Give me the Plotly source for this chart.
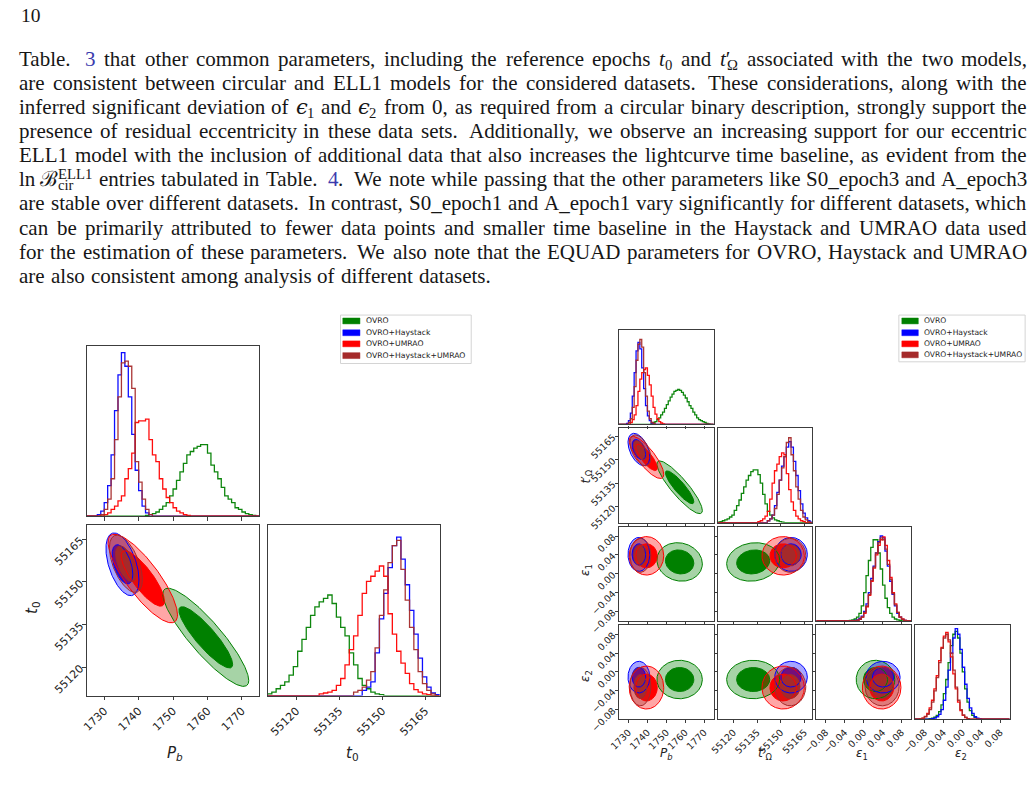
import numpy as np
import plotly.graph_objects as go

W, H = 1035, 796

# ---------------------------------------------------------------- data
DATASETS = ["OVRO", "OVRO+Haystack", "OVRO+UMRAO", "OVRO+Haystack+UMRAO"]
RGB = [(0, 128, 0), (0, 0, 255), (255, 0, 0), (165, 42, 42)]

PB_TICKS = [1730, 1740, 1750, 1760, 1770]
PB_TICKTEXT = ["1730", "1740", "1750", "1760", "1770"]
T_TICKS = [55120, 55135, 55150, 55165]
T_TICKTEXT = ["55120", "55135", "55150", "55165"]
E_TICKS = [-0.08, -0.04, 0.0, 0.04, 0.08]
E_TICKTEXT = ["\u22120.08", "\u22120.04", "0.00", "0.04", "0.08"]
PB_RANGE = [1725, 1775]
T_RANGE = [55110, 55170]
E_RANGE = [-0.1, 0.1]
PB_BIN, T_BIN, E_BIN = 1.0, 1.5, 0.005

# circular model : histogram heights (fraction of panel height), first bin edge
CIRC_PB_START = [1742, 1728, 1730, 1729]
CIRC_PB_HIST = [
    [0.005, 0.01, 0.015, 0.025, 0.04, 0.06, 0.08, 0.12, 0.16, 0.21, 0.26, 0.31, 0.36, 0.38, 0.40, 0.41,
     0.42, 0.42, 0.37, 0.30, 0.26, 0.22, 0.17, 0.12, 0.10, 0.08, 0.05, 0.04, 0.025, 0.015, 0.01, 0.005],
    [0.01, 0.03, 0.08, 0.18, 0.36, 0.62, 0.83, 0.96, 0.88, 0.70, 0.48, 0.27, 0.15, 0.06, 0.02, 0.01],
    [0.01, 0.02, 0.04, 0.06, 0.09, 0.12, 0.22, 0.28, 0.37, 0.55, 0.56, 0.56, 0.57, 0.45, 0.36, 0.32,
     0.22, 0.16, 0.11, 0.08, 0.05, 0.03, 0.02, 0.01, 0.005],
    [0.01, 0.04, 0.10, 0.22, 0.45, 0.70, 0.90, 0.91, 0.88, 0.75, 0.32, 0.20, 0.10, 0.04, 0.01],
]
CIRC_T0_START = [55110, 55143, 55128, 55140]
CIRC_T0_HIST = [
    [0.01, 0.02, 0.04, 0.06, 0.08, 0.12, 0.17, 0.26, 0.33, 0.40, 0.47, 0.52, 0.55, 0.57, 0.59, 0.54,
     0.46, 0.40, 0.35, 0.25, 0.18, 0.10, 0.06, 0.04, 0.02, 0.01, 0.005],
    [0.03, 0.05, 0.08, 0.25, 0.45, 0.60, 0.75, 0.88, 0.93, 0.80, 0.65, 0.50, 0.36, 0.22, 0.11, 0.05, 0.015, 0.005],
    [0.01, 0.015, 0.02, 0.03, 0.06, 0.10, 0.18, 0.27, 0.35, 0.47, 0.60, 0.67, 0.70, 0.73, 0.76, 0.70,
     0.48, 0.36, 0.26, 0.19, 0.13, 0.07, 0.035, 0.02, 0.01, 0.005],
    [0.02, 0.03, 0.05, 0.09, 0.14, 0.28, 0.47, 0.62, 0.78, 0.88, 0.91, 0.74, 0.56, 0.40, 0.27, 0.14, 0.07, 0.03, 0.01],
]
# circular model : 2-D posterior summaries (mean, sd, correlation)
CIRC_PB_MEAN = [1759.5, 1735.3, 1741.2, 1736.3]
CIRC_PB_SD = [5.2, 2.0, 4.2, 2.0]
CIRC_T0_MEAN = [55130.5, 55156.2, 55151.2, 55156.4]
CIRC_T0_SD = [7.2, 4.6, 6.5, 4.2]
CIRC_RHO = [-0.88, -0.5, -0.82, -0.55]

# ELL1 model : histograms
ELL_PB_START = [1742, 1729, 1731, 1730]
ELL_PB_HIST = [
    [0.01, 0.02, 0.03, 0.05, 0.07, 0.10, 0.13, 0.17, 0.21, 0.25, 0.29, 0.32, 0.35, 0.36, 0.37, 0.36,
     0.34, 0.31, 0.28, 0.24, 0.20, 0.17, 0.13, 0.10, 0.07, 0.05, 0.04, 0.03, 0.02, 0.01, 0.005],
    [0.01, 0.04, 0.12, 0.30, 0.55, 0.78, 0.87, 0.80, 0.60, 0.38, 0.20, 0.09, 0.04, 0.015, 0.005],
    [0.02, 0.05, 0.10, 0.20, 0.35, 0.48, 0.55, 0.58, 0.60, 0.52, 0.42, 0.30, 0.18, 0.11, 0.06, 0.03, 0.015, 0.005],
    [0.02, 0.06, 0.18, 0.40, 0.68, 0.85, 0.90, 0.82, 0.55, 0.30, 0.14, 0.06, 0.02, 0.01],
]
ELL_TW_START = [55110, 55141.5, 55135.5, 55141.5]
ELL_TW_HIST = [
    [0.005, 0.01, 0.02, 0.03, 0.04, 0.06, 0.08, 0.13, 0.18, 0.24, 0.31, 0.38, 0.45, 0.50, 0.54, 0.56,
     0.56, 0.51, 0.42, 0.30, 0.20, 0.12, 0.08, 0.05, 0.03, 0.02, 0.01, 0.005],
    [0.02, 0.04, 0.08, 0.18, 0.32, 0.45, 0.60, 0.70, 0.80, 0.86, 0.80, 0.65, 0.50, 0.34, 0.20, 0.10, 0.05, 0.02, 0.005],
    [0.01, 0.02, 0.04, 0.07, 0.12, 0.25, 0.42, 0.55, 0.62, 0.70, 0.74, 0.72, 0.52, 0.35, 0.22, 0.13, 0.07, 0.04, 0.02, 0.01],
    [0.02, 0.04, 0.08, 0.15, 0.30, 0.45, 0.58, 0.70, 0.85, 0.90, 0.72, 0.55, 0.38, 0.25, 0.13, 0.06, 0.03, 0.01],
]
ELL_E1_START = [-0.03, -0.02, -0.015, -0.015]
ELL_E1_HIST = [
    [0.005, 0.01, 0.02, 0.04, 0.08, 0.16, 0.30, 0.48, 0.64, 0.78, 0.86, 0.86, 0.72, 0.55, 0.38, 0.24,
     0.14, 0.08, 0.04, 0.02, 0.01, 0.005],
    [0.005, 0.01, 0.025, 0.05, 0.10, 0.18, 0.30, 0.45, 0.58, 0.72, 0.84, 0.90, 0.88, 0.74, 0.58, 0.42,
     0.28, 0.16, 0.08, 0.04, 0.015, 0.005],
    [0.005, 0.015, 0.04, 0.08, 0.15, 0.27, 0.42, 0.56, 0.70, 0.80, 0.86, 0.89, 0.80, 0.64, 0.46, 0.30,
     0.18, 0.09, 0.04, 0.02, 0.005],
    [0.005, 0.015, 0.04, 0.09, 0.16, 0.28, 0.43, 0.57, 0.72, 0.83, 0.88, 0.86, 0.76, 0.60, 0.44, 0.29,
     0.17, 0.09, 0.04, 0.015, 0.005],
]
ELL_E2_START = [-0.07, -0.065, -0.09, -0.09]
ELL_E2_HIST = [
    [0.005, 0.01, 0.02, 0.04, 0.08, 0.15, 0.27, 0.42, 0.60, 0.78, 0.90, 0.93, 0.86, 0.70, 0.50, 0.32,
     0.18, 0.09, 0.04, 0.02, 0.005],
    [0.005, 0.01, 0.025, 0.05, 0.10, 0.20, 0.34, 0.52, 0.70, 0.86, 0.96, 0.90, 0.74, 0.55, 0.37, 0.22,
     0.12, 0.06, 0.025, 0.01, 0.005],
    [0.005, 0.01, 0.03, 0.06, 0.12, 0.20, 0.32, 0.46, 0.62, 0.76, 0.88, 0.92, 0.82, 0.66, 0.48, 0.32,
     0.18, 0.09, 0.04, 0.015, 0.005],
    [0.005, 0.01, 0.025, 0.05, 0.10, 0.18, 0.30, 0.44, 0.60, 0.75, 0.86, 0.90, 0.84, 0.70, 0.52, 0.34,
     0.20, 0.10, 0.045, 0.02, 0.005],
]
# ELL1 model : 2-D posterior summaries
ELL_PB_MEAN = [1757.0, 1735.5, 1739.5, 1736.3]
ELL_PB_SD = [5.0, 2.4, 3.8, 2.3]
ELL_TW_MEAN = [55132.5, 55156.5, 55151.5, 55156.0]
ELL_TW_SD = [7.0, 4.3, 5.6, 4.1]
ELL_E1_MEAN = [0.025, 0.041, 0.038, 0.039]
ELL_E1_SD = [0.017, 0.015, 0.017, 0.015]
ELL_E2_MEAN = [-0.016, -0.011, -0.033, -0.031]
ELL_E2_SD = [0.017, 0.014, 0.019, 0.017]
ELL_RHO_PB_TW = [-0.88, -0.45, -0.8, -0.5]
ELL_RHO_PB_E1 = [-0.1, 0.0, 0.0, 0.0]
ELL_RHO_TW_E1 = [0.1, 0.0, 0.0, 0.0]
ELL_RHO_PB_E2 = [0.0, 0.0, 0.0, 0.0]
ELL_RHO_TW_E2 = [0.0, 0.0, 0.0, 0.0]
ELL_RHO_E1_E2 = [0.0, 0.0, 0.0, 0.0]
R_IN, R_OUT = 1.5, 2.4   # 68% / 95% credible contours

# page text
TEXT_LINES = [
    "Table. [3] that other common parameters, including the reference epochs {t0} and {tw} associated with the two models,",
    "are consistent between circular and ELL1 models for the considered datasets. These considerations, along with the",
    "inferred significant deviation of {e1} and {e2} from 0, as required from a circular binary description, strongly support the",
    "presence of residual eccentricity in these data sets. Additionally, we observe an increasing support for our eccentric",
    "ELL1 model with the inclusion of additional data that also increases the lightcurve time baseline, as evident from the",
    "ln~{B} entries tabulated in Table. [4]. We note while passing that the other parameters like S0_epoch3 and A_epoch3",
    "are stable over different datasets. In contrast, S0_epoch1 and A_epoch1 vary significantly for different datasets, which",
    "can be primarily attributed to fewer data points and smaller time baseline in the Haystack and UMRAO data used",
    "for the estimation of these parameters. We also note that the EQUAD parameters for OVRO, Haystack and UMRAO",
    "are also consistent among analysis of different datasets.",
]
PAGE_NUMBER = "10"

# ---------------------------------------------------------------- helpers
FRAME = "#3c3c3c"
TEXT_C = "#161616"
LINK_C = "#3b3bae"


def rgba(c, a):
    return f"rgba({c[0]},{c[1]},{c[2]},{a})"


fig = go.Figure()
AX = {}
_count = [0]


def panel(x0, y0, w, h, xr, yr, xticks=None, xtext=None, xlab=False,
          yticks=None, ytext=None, ylab=False, fs=10, tl=3.5):
    _count[0] += 1
    k = _count[0]
    sfx = "" if k == 1 else str(k)
    base = dict(showline=True, mirror=True, linecolor=FRAME, linewidth=1.2,
                showgrid=False, zeroline=False, fixedrange=True,
                tickfont=dict(family="DejaVu Sans", size=fs, color="#222"),
                tickcolor=FRAME, tickwidth=1, ticklen=tl)
    xa = dict(base, domain=[x0 / W, (x0 + w) / W], range=xr, anchor="y" + sfx)
    ya = dict(base, domain=[1 - (y0 + h) / H, 1 - y0 / H], range=yr, anchor="x" + sfx)
    if xticks is not None:
        xa.update(tickmode="array", tickvals=xticks, ticktext=xtext, ticks="outside",
                  showticklabels=xlab, tickangle=-45)
    else:
        xa.update(ticks="", showticklabels=False)
    if yticks is not None:
        ya.update(tickmode="array", tickvals=yticks, ticktext=ytext, ticks="outside",
                  showticklabels=ylab, tickangle=-45)
    else:
        ya.update(ticks="", showticklabels=False)
    AX["xaxis" + sfx] = xa
    AX["yaxis" + sfx] = ya
    return "x" + sfx, "y" + sfx


def hist(xref, yref, start, width, heights, rng, color):
    xs = [rng[0]]
    ys = [0.0]
    for k, h in enumerate(heights):
        xs.append(start + k * width)
        ys.append(h)
    xs.append(start + len(heights) * width)
    ys.append(0.0)
    xs.append(rng[1])
    ys.append(0.0)
    fig.add_trace(go.Scatter(x=xs, y=ys, mode="lines", xaxis=xref, yaxis=yref,
                             line=dict(color=rgba(color, 0.95), width=1.3, shape="hv"),
                             showlegend=False, hoverinfo="skip"))


THETA = np.linspace(0, 2 * np.pi, 241)


def ellipse(mx, my, sx, sy, rho, r):
    x = mx + r * sx * np.cos(THETA)
    y = my + r * sy * (rho * np.cos(THETA) + np.sqrt(1 - rho ** 2) * np.sin(THETA))
    return x, y


def contours2d(xref, yref, mx, sx, my, sy, rho):
    for i in range(len(DATASETS)):
        for r, a in ((R_OUT, 0.35), (R_IN, 1.0)):
            x, y = ellipse(mx[i], my[i], sx[i], sy[i], rho[i], r)
            fig.add_trace(go.Scatter(x=x, y=y, mode="lines", fill="toself",
                                     fillcolor=rgba(RGB[i], a), line=dict(width=0),
                                     xaxis=xref, yaxis=yref, showlegend=False, hoverinfo="skip"))
    for i in range(len(DATASETS)):
        for r in (R_OUT, R_IN):
            x, y = ellipse(mx[i], my[i], sx[i], sy[i], rho[i], r)
            fig.add_trace(go.Scatter(x=x, y=y, mode="lines", line=dict(color=rgba(RGB[i], 1), width=1),
                                     xaxis=xref, yaxis=yref, showlegend=False, hoverinfo="skip"))


def note(x, y, text, size, family="DejaVu Sans", color="#222", xanchor="center",
         yanchor="middle", angle=0, yshift=0):
    fig.add_annotation(x=x / W, y=1 - y / H, xref="paper", yref="paper", text=text,
                       showarrow=False, xanchor=xanchor, yanchor=yanchor, textangle=angle,
                       font=dict(family=family, size=size, color=color),
                       borderpad=0, borderwidth=0, yshift=yshift)


def legend_box(x0, y0, x1, y1, rows, px0, px1, tx, fs):
    fig.add_shape(type="rect", xref="paper", yref="paper", x0=x0 / W, x1=x1 / W,
                  y0=1 - y1 / H, y1=1 - y0 / H, line=dict(color="#d4d4d4", width=1),
                  fillcolor="rgba(255,255,255,0.85)")
    for i, name in enumerate(DATASETS):
        yc = rows[i]
        fig.add_shape(type="rect", xref="paper", yref="paper", x0=px0 / W, x1=px1 / W,
                      y0=1 - (yc + 3) / H, y1=1 - (yc - 3) / H,
                      line=dict(color=rgba(RGB[i], 0.6), width=0.8), fillcolor=rgba(RGB[i], 1))
        note(tx, yc, name, fs, xanchor="left", color="#222")


# ---------------------------------------------------------------- left corner plot (circular)
LX = [74, 257]
LY = [352, 534.5]
LW, LH = 174.5, 173.5
LFS = 11
xa, ya = panel(LX[0], LY[0], LW, LH, PB_RANGE, [0, 1], PB_TICKS, PB_TICKTEXT, False, fs=LFS, tl=3.5)
for i in range(4):
    hist(xa, ya, CIRC_PB_START[i], PB_BIN, CIRC_PB_HIST[i], PB_RANGE, RGB[i])
xa, ya = panel(LX[0], LY[1], LW, LH, PB_RANGE, T_RANGE, PB_TICKS, PB_TICKTEXT, True,
               T_TICKS, T_TICKTEXT, True, fs=LFS, tl=3.5)
contours2d(xa, ya, CIRC_PB_MEAN, CIRC_PB_SD, CIRC_T0_MEAN, CIRC_T0_SD, CIRC_RHO)
xa, ya = panel(LX[1], LY[1], LW, LH, T_RANGE, [0, 1], T_TICKS, T_TICKTEXT, True, fs=LFS, tl=3.5)
for i in range(4):
    hist(xa, ya, CIRC_T0_START[i], T_BIN, CIRC_T0_HIST[i], T_RANGE, RGB[i])

note(163, 767, "<i>P</i><sub><i>b</i></sub>", 15)
note(343, 767, "<i>t</i><sub>0</sub>", 15)
note(18, 618, "<i>t</i><sub>0</sub>", 15, angle=-90)
legend_box(331, 320.7, 463.5, 370, [326.7, 338.7, 350, 362], 333.3, 350.7, 356.7, 7.7)

# ---------------------------------------------------------------- right corner plot (ELL1)
RX0, RY0, RS, RG = 613.3, 336, 96, 4
RFS = 9.5
ranges = [PB_RANGE, T_RANGE, E_RANGE, E_RANGE]
ticks = [PB_TICKS, T_TICKS, E_TICKS, E_TICKS]
ticktexts = [PB_TICKTEXT, T_TICKTEXT, E_TICKTEXT, E_TICKTEXT]
hstart = [ELL_PB_START, ELL_TW_START, ELL_E1_START, ELL_E2_START]
hvals = [ELL_PB_HIST, ELL_TW_HIST, ELL_E1_HIST, ELL_E2_HIST]
bins = [PB_BIN, T_BIN, E_BIN, E_BIN]
means = [ELL_PB_MEAN, ELL_TW_MEAN, ELL_E1_MEAN, ELL_E2_MEAN]
sds = [ELL_PB_SD, ELL_TW_SD, ELL_E1_SD, ELL_E2_SD]
rhos = {(1, 0): ELL_RHO_PB_TW, (2, 0): ELL_RHO_PB_E1, (2, 1): ELL_RHO_TW_E1,
        (3, 0): ELL_RHO_PB_E2, (3, 1): ELL_RHO_TW_E2, (3, 2): ELL_RHO_E1_E2}
for r in range(4):
    for c in range(r + 1):
        x0 = RX0 + c * (RS + RG)
        y0 = RY0 + r * (RS + RG)
        if r == c:
            xa, ya = panel(x0, y0, RS, RS, ranges[c], [0, 1], ticks[c], ticktexts[c], r == 3, fs=RFS, tl=3)
            for i in range(4):
                hist(xa, ya, hstart[c][i], bins[c], hvals[c][i], ranges[c], RGB[i])
        else:
            xa, ya = panel(x0, y0, RS, RS, ranges[c], ranges[r], ticks[c], ticktexts[c], r == 3,
                           ticks[r], ticktexts[r], c == 0, fs=RFS, tl=3)
            contours2d(xa, ya, means[c], sds[c], means[r], sds[r], rhos[(r, c)])

note(661.7, 767, "<i>P</i><sub><i>b</i></sub>", 12)
note(761.5, 768, "<i>t</i>\u2032<sub>\u03a9</sub>", 12)
note(860, 767, "<i>\u03b5</i><sub>1</sub>", 12)
note(960, 767, "<i>\u03b5</i><sub>2</sub>", 12)
note(581, 485, "<i>t</i>\u2032<sub>\u03a9</sub>", 12, angle=-90)
note(580, 580, "<i>\u03b5</i><sub>1</sub>", 12, angle=-90)
note(580, 688, "<i>\u03b5</i><sub>2</sub>", 12, angle=-90)
legend_box(897, 320.7, 1025, 368.3, [326.7, 338.7, 350, 361.2], 900, 916.7, 922.5, 7.6)

# ---------------------------------------------------------------- page text
TIMES = {' ': 250, ',': 250, '.': 250, '-': 333, '_': 500, ':': 278, ';': 278, '(': 333, ')': 333, '+': 564,
         'A': 722, 'B': 667, 'C': 667, 'D': 722, 'E': 611, 'F': 556, 'G': 722, 'H': 722, 'I': 333,
         'J': 389, 'K': 722, 'L': 611, 'M': 889, 'N': 722, 'O': 722, 'P': 556, 'Q': 722, 'R': 667,
         'S': 556, 'T': 611, 'U': 722, 'V': 722, 'W': 944, 'X': 722, 'Y': 722, 'Z': 611,
         'a': 444, 'b': 500, 'c': 444, 'd': 500, 'e': 444, 'f': 333, 'g': 500, 'h': 500, 'i': 278,
         'j': 278, 'k': 500, 'l': 278, 'm': 778, 'n': 500, 'o': 500, 'p': 500, 'q': 500, 'r': 333,
         's': 389, 't': 278, 'u': 500, 'v': 500, 'w': 722, 'x': 500, 'y': 500, 'z': 444}
FS = 21.0
SFS = 0.7 * FS
SUB_DY = 0.3375 * (SFS - FS) - 0.18 * FS
SUP_DY = 0.3375 * (SFS - FS) + 0.38 * FS
SERIF = "Liberation Serif"


def sw(s, size=FS):
    return sum(TIMES.get(ch, 500) for ch in s) / 1000.0 * size


def parse_word(word):
    pieces = []
    state = {"x": 0.0, "buf": ""}

    def flush():
        if state["buf"]:
            pieces.append((state["buf"], state["x"], FS, 0.0, SERIF, False, TEXT_C))
            state["x"] += sw(state["buf"])
            state["buf"] = ""

    i = 0
    while i < len(word):
        if word.startswith("{t0}", i):
            flush()
            pieces.append(("<i>t</i>", state["x"], FS, 0.0, SERIF, False, TEXT_C))
            state["x"] += 0.30 * FS
            pieces.append(("0", state["x"], SFS, SUB_DY, SERIF, False, TEXT_C))
            state["x"] += 0.5 * SFS
            i += 4
        elif word.startswith("{tw}", i):
            flush()
            # t with prime in one piece, Omega subscript stacked beneath the prime
            pieces.append(("<i>t</i>\u2032", state["x"], FS, 0.0, SERIF, False, TEXT_C))
            state["x"] += 0.30 * FS
            pieces.append(("\u03a9", state["x"], SFS, SUB_DY, SERIF, False, TEXT_C))
            state["x"] += 0.77 * SFS
            i += 4
        elif word.startswith("{e1}", i) or word.startswith("{e2}", i):
            flush()
            pieces.append(("<i>\u03f5</i>", state["x"], FS, 0.0, "DejaVu Serif", False, TEXT_C))
            state["x"] += 0.52 * FS
            pieces.append((word[i + 2], state["x"], SFS, SUB_DY, SERIF, False, TEXT_C))
            state["x"] += 0.5 * SFS
            i += 4
        elif word.startswith("{B}", i):
            flush()
            pieces.append(("\u212c", state["x"], FS, 0.0, "DejaVu Serif", False, TEXT_C))
            state["x"] += 0.9 * FS
            pieces.append(("ELL1", state["x"], SFS, SUP_DY, SERIF, False, TEXT_C))
            pieces.append(("cir", state["x"], SFS, SUB_DY, SERIF, False, TEXT_C))
            state["x"] += sw("ELL1", SFS)
            i += 3
        elif word[i] == "[":
            flush()
            j = word.index("]", i)
            num = word[i + 1:j]
            pieces.append((num, state["x"], FS, 0.0, SERIF, False, LINK_C))
            state["x"] += sw(num)
            i = j + 1
        elif word[i] == "~":
            flush()
            state["x"] += 0.22 * FS
            i += 1
        else:
            state["buf"] += word[i]
            i += 1
    flush()
    return pieces, state["x"]


X0, X1 = 5.0, 1026.7
LINE_Y0, LINE_DY = 60.1, 24.5
for li, line in enumerate(TEXT_LINES):
    words = line.split(" ")
    parsed = [parse_word(w) for w in words]
    widths = [p[1] for p in parsed]
    weights = []
    for w in words[:-1]:
        if w.endswith("."):
            weights.append(1.5)
        elif w.endswith(","):
            weights.append(1.1)
        else:
            weights.append(1.0)
    last = li == len(TEXT_LINES) - 1
    if last:
        unit = 6.8
    else:
        unit = (X1 - X0 - sum(widths)) / sum(weights)
    ym = LINE_Y0 + li * LINE_DY
    x = X0
    for wi, (pieces, wwid) in enumerate(parsed):
        if (not last) and wi == len(parsed) - 1 and len(pieces) == 1:
            t, dx, size, dy, fam, ital, col = pieces[0]
            note(X1, ym, t, size, family=fam, color=col, xanchor="right", yshift=dy)
        else:
            for (t, dx, size, dy, fam, ital, col) in pieces:
                txt = f"<i>{t}</i>" if ital else t
                note(x + dx, ym, txt, size, family=fam, color=col, xanchor="left", yshift=dy)
        if wi < len(weights):
            x += wwid + unit * weights[wi]

note(7, 15.5, PAGE_NUMBER, 19.5, family=SERIF, color=TEXT_C, xanchor="left")

# ---------------------------------------------------------------- layout
fig.update_layout(width=W, height=H, margin=dict(l=0, r=0, t=0, b=0),
                  paper_bgcolor="white", plot_bgcolor="white", showlegend=False,
                  font=dict(family="DejaVu Sans", color="#222"), **AX)
fig.write_html("out.html")
